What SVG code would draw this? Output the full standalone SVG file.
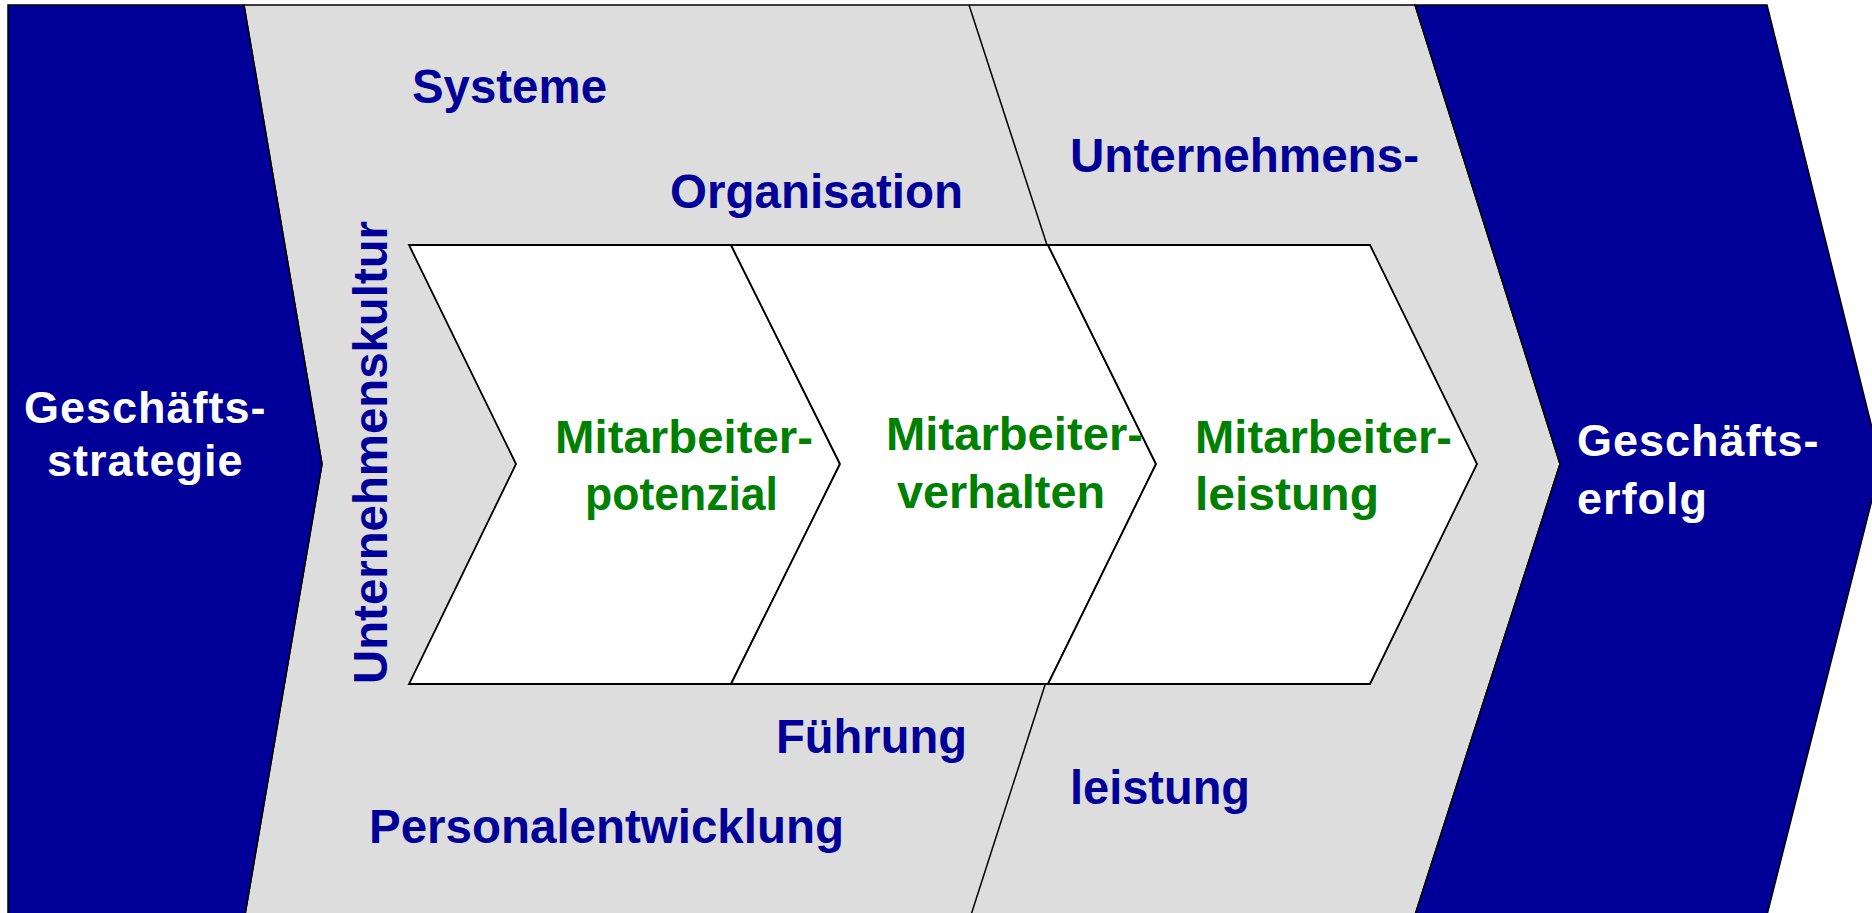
<svg xmlns="http://www.w3.org/2000/svg" width="1872" height="913" viewBox="0 0 1872 913">
<style>
.blue{fill:#000099;stroke:#000;stroke-width:1.5;stroke-linejoin:miter}
.grey{fill:#dddddd;stroke:#000;stroke-width:1.5}
.white{fill:#ffffff;stroke:#000;stroke-width:1.8;stroke-linejoin:miter}
.div{fill:none;stroke:#000;stroke-width:1.5}
text{font-family:"Liberation Sans",Arial,sans-serif;font-weight:bold}
.nav{fill:#000099;font-size:48px}
.grn{fill:#008000;font-size:47px}
.wht{fill:#ffffff;font-size:45px;letter-spacing:1px}
</style>
<rect x="0" y="0" width="1872" height="913" fill="#ffffff"/>
<g id="background-band">
<polygon class="grey" points="244,5 1415,5 1560,464 1415,915 245,915 322,464"/>
</g>
<g id="connectors">
<line class="div" x1="969" y1="5" x2="1047" y2="245"/>
<line class="div" x1="1045" y1="685" x2="971" y2="915"/>
</g>
<g id="strategie">
<polygon class="blue" points="8,915 8,5 244,5 322,464 245,915"/>
<text class="wht" x="24" y="423">Geschäfts-</text>
<text class="wht" x="47" y="476">strategie</text>
</g>
<g id="erfolg">
<polygon class="blue" points="1415,5 1767,5 1881,464 1767,915 1415,915 1560,464"/>
<text class="wht" x="1577" y="456">Geschäfts-</text>
<text class="wht" x="1577" y="514">erfolg</text>
</g>
<g id="labels">
<text class="nav" x="412" y="103" textLength="195" lengthAdjust="spacingAndGlyphs">Systeme</text>
<text class="nav" x="670" y="208" textLength="293" lengthAdjust="spacingAndGlyphs">Organisation</text>
<text class="nav" x="1070" y="172" textLength="349" lengthAdjust="spacingAndGlyphs">Unternehmens-</text>
<text class="nav" x="776" y="753" textLength="191" lengthAdjust="spacingAndGlyphs">Führung</text>
<text class="nav" x="369" y="843" textLength="475" lengthAdjust="spacingAndGlyphs">Personalentwicklung</text>
<text class="nav" x="1070" y="804" textLength="180" lengthAdjust="spacingAndGlyphs">leistung</text>
<text class="nav" transform="translate(387,684) rotate(-90)" x="0" y="0" textLength="463" lengthAdjust="spacingAndGlyphs">Unternehmenskultur</text>
</g>
<g id="potenzial">
<polygon class="white" points="409,245 731,245 840,464 731,684 409,684 516,464"/>
<text class="grn" x="555" y="453" textLength="258" lengthAdjust="spacingAndGlyphs">Mitarbeiter-</text>
<text class="grn" x="585" y="510" textLength="193" lengthAdjust="spacingAndGlyphs">potenzial</text>
</g>
<g id="verhalten">
<polygon class="white" points="731,245 1048,245 1156,464 1048,684 731,684 840,464"/>
<text class="grn" x="886" y="450" textLength="257" lengthAdjust="spacingAndGlyphs">Mitarbeiter-</text>
<text class="grn" x="897" y="508" textLength="208" lengthAdjust="spacingAndGlyphs">verhalten</text>
</g>
<g id="leistung">
<polygon class="white" points="1048,245 1370,245 1477,464 1370,684 1048,684 1156,464"/>
<text class="grn" x="1195" y="453" textLength="257" lengthAdjust="spacingAndGlyphs">Mitarbeiter-</text>
<text class="grn" x="1195" y="510" textLength="184" lengthAdjust="spacingAndGlyphs">leistung</text>
</g>
</svg>
